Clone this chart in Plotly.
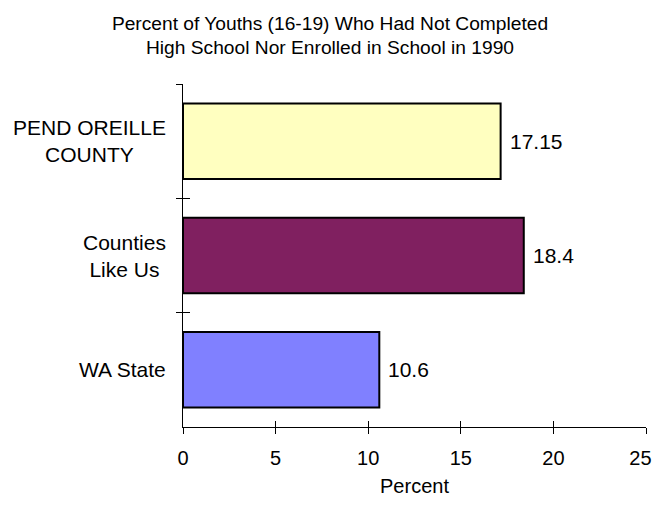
import plotly.graph_objects as go

# data
categories = ["PEND OREILLE<br>COUNTY", "Counties<br>Like Us", "WA State"]
values = [17.15, 18.4, 10.6]
labels = ["17.15", "18.4", "10.6"]
colors = ["#FFFFC0", "#802060", "#8080FF"]
x_ticks = [0, 5, 10, 15, 20, 25]
# last label padded so it stays inside the page edge
x_tick_text = ["0", "5", "10", "15", "20", "25\u00a0\u00a0"]

font = "Liberation Sans, Arial, sans-serif"

fig = go.Figure()
fig.add_trace(go.Bar(
    y=categories, x=values, orientation="h",
    marker=dict(color=colors, line=dict(color="black", width=2)),
    width=0.66, hoverinfo="skip",
))
# dummy trace so the overlay axes (inner half of the crossing ticks) get drawn
fig.add_trace(go.Scatter(x=[None], y=[None], xaxis="x2", yaxis="y2",
                         mode="markers", hoverinfo="skip"))

# category labels, centred lines, right edge near the axis
for cat in categories:
    fig.add_annotation(x=0, xref="paper", y=cat, yref="y", text=cat,
                       xanchor="right", align="center", showarrow=False,
                       xshift=-15, font=dict(size=21))
# value labels next to the bars
for cat, v, t in zip(categories, values, labels):
    fig.add_annotation(x=v, y=cat, text=t, xanchor="left", showarrow=False,
                       xshift=7, font=dict(size=21))

fig.update_layout(
    width=644, height=489,
    margin=dict(l=175, r=6, t=76, b=70),
    plot_bgcolor="white", paper_bgcolor="white",
    showlegend=False,
    font=dict(family=font, size=20, color="black"),
    title=dict(text="Percent of Youths (16-19) Who Had Not Completed<br>High School Nor Enrolled in School in 1990",
               x=0.5, xanchor="center", y=0.956, yanchor="top",
               font=dict(size=19.2, family=font)),
    xaxis=dict(range=[0, 25], tickvals=x_ticks, ticktext=x_tick_text,
               ticks="outside", ticklen=6,
               tickcolor="black", showline=True, linecolor="black", linewidth=1,
               showgrid=False, zeroline=False, ticklabelstandoff=7,
               automargin=False, ticklabeloverflow="allow",
               title=dict(text="Percent", standoff=30, font=dict(size=20))),
    yaxis=dict(autorange="reversed", tickson="boundaries", ticks="outside",
               ticklen=6, tickcolor="black", showline=True, linecolor="black",
               linewidth=1, showgrid=False, showticklabels=False,
               automargin=False),
    xaxis2=dict(overlaying="x", anchor="y", side="bottom", range=[0, 25],
                tickvals=x_ticks, ticks="inside", ticklen=6, tickcolor="black",
                showticklabels=False, showgrid=False, zeroline=False,
                automargin=False),
    yaxis2=dict(overlaying="y", anchor="x", side="left", range=[2.5, -0.5],
                tickvals=[-0.5, 0.5, 1.5, 2.5], ticks="inside", ticklen=7,
                tickcolor="black", showticklabels=False, showgrid=False,
                zeroline=False, automargin=False),
)

fig.write_html("out.html")
